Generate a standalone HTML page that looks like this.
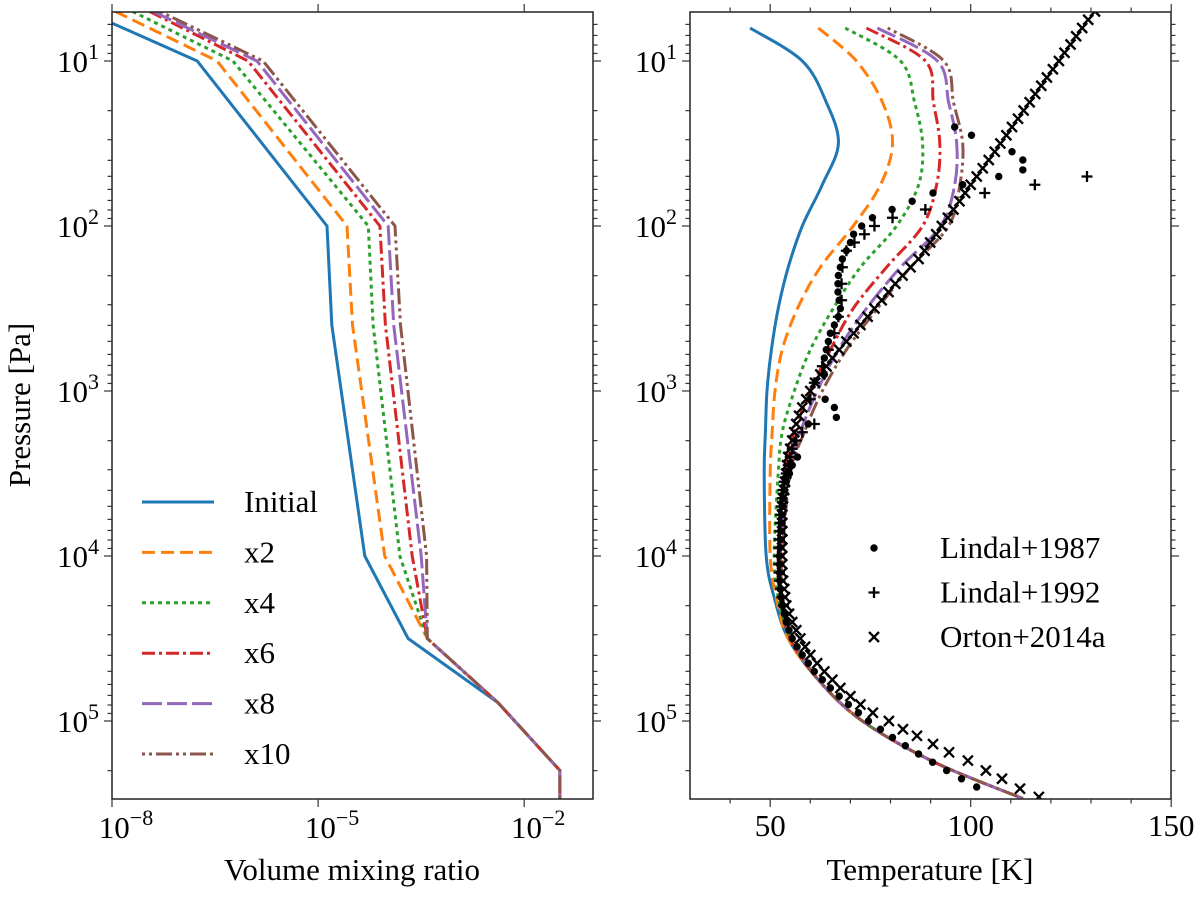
<!DOCTYPE html>
<html><head><meta charset="utf-8"><style>
html,body{margin:0;padding:0;background:#fff;}
svg{display:block;font-family:"Liberation Serif","DejaVu Serif",serif;}
</style></head><body>
<svg id="fig" width="1200" height="897" viewBox="0 0 1200 897" xmlns="http://www.w3.org/2000/svg">
<defs>
<clipPath id="clipL"><rect x="112" y="12" width="481" height="787"/></clipPath>
<clipPath id="clipR"><rect x="690" y="12" width="481" height="787"/></clipPath>
</defs>
<g id="left"></g>
<g id="right"></g>
<text x="0" y="0" font-size="31" text-anchor="middle" transform="translate(30,405) rotate(-90)">Pressure [Pa]</text>
<text x="352" y="880" font-size="31" text-anchor="middle">Volume mixing ratio</text>
<text x="930" y="880" font-size="31" text-anchor="middle">Temperature [K]</text>
</svg>
<script>
// ---- data ----
const colors = ["#1f77b4","#ff7f0e","#2ca02c","#d62728","#9467bd","#8c564b"];
const seriesNames = ["Initial","x2","x4","x6","x8","x10"];
const vmrLogP = [0.7, 1.0, 2.0, 2.6, 4.0, 4.5, 4.89, 5.3, 5.47];
const vmrInitial = [-8.38, -6.76, -4.87, -4.80, -4.32, -3.69, -2.38, -1.48, -1.48];
const vmrX2  = [-7.95, -6.47, -4.58, -4.50, -4.03, -3.41, -2.38, -1.48, -1.48];
const vmrX4  = [-7.70, -6.24, -4.27, -4.20, -3.81, -3.41, -2.38, -1.48, -1.48];
const vmrX6  = [-7.45, -6.02, -4.10, -4.02, -3.63, -3.41, -2.38, -1.48, -1.48];
const vmrX8  = [-7.40, -5.89, -3.98, -3.90, -3.50, -3.41, -2.38, -1.48, -1.48];
const vmrX10 = [-7.30, -5.80, -3.88, -3.80, -3.42, -3.41, -2.38, -1.48, -1.48];
const tLogP = [0.8,1.0,1.25,1.5,1.75,2.0,2.25,2.5,2.75,3.0,3.25,3.5,4.0,4.25,4.5,4.75,5.0,5.25,5.47];
const tInitial = [45,58,64,67,63,58,54.5,52,50.3,49.2,48.8,48.5,49,51,54.5,62,73,91,113];
const tX2  = [62,71.5,78,80.5,77.5,70.7,62.5,56.8,53,51.2,50.5,50,50,51.5,54.5,62,73,91,113];
const tX4  = [68.7,82.5,86,88,87,81.5,72.5,65.7,60,56,53,52,51,52,55,62,73,91,113];
const tX6  = [74,88.7,90.7,92.3,91.5,88,79,70.7,65,60,56,53.5,52,52.5,55,62,73,91,113];
const tX8  = [76.7,91.7,94.5,96.5,96,92.5,82.5,74,67,61.7,57.5,54.5,52.5,53,55.5,62,73,91,113];
const tX10 = [79.3,93.3,95.7,98,97.3,94.5,85,76.7,69,63,58.5,55,53,53,55.5,62,73,91,113];
const lindal1987 = [[96,1.4],[100.2,1.45],[110.3,1.55],[113,1.6],[113,1.66],[107,1.7],[98,1.75],[90.6,1.8],[85.4,1.85],[80.4,1.9],[75.5,1.95],[72.8,2.0],[70.8,2.05],[70,2.1],[69,2.15],[68,2.2],[67.5,2.25],[67,2.3],[66.9,2.35],[66.9,2.4],[67.2,2.45],[67.5,2.5],[67,2.55],[66,2.6],[65,2.65],[64.5,2.7],[64,2.75],[63.5,2.8],[63.5,2.9],[63.7,3.05],[66,3.1],[66.5,3.16],[59.5,3.2],[56.8,3.4],[55.5,3.45],[54.8,3.5],[54,3.55],[53.5,3.6],[53.2,3.65],[53,3.7],[52.8,3.75],[52.7,3.8],[52.6,3.85],[52.5,3.9],[52.4,3.95],[52.3,4.0],[52.3,4.05],[52.3,4.1],[52.4,4.15],[52.5,4.2],[52.7,4.25],[53,4.3],[53.5,4.35],[54,4.4],[54.7,4.45],[55.5,4.5],[56.7,4.55],[58,4.6],[59.5,4.65],[61,4.7],[63,4.75],[65,4.8],[67.2,4.85],[69.5,4.9],[72,4.95],[74.5,5.0],[77.5,5.05],[80.5,5.1],[83.7,5.15],[87,5.2],[90.5,5.25],[94,5.3],[97.7,5.35],[101.5,5.4]];
const lindal1992 = [[129,1.7],[116,1.75],[103.5,1.8],[88.7,1.9],[80.5,1.95],[76,2.0],[73.5,2.05],[71,2.1],[69,2.15],[68,2.25],[67.8,2.35],[67.8,2.45],[67,2.55],[66,2.65],[64.5,2.75],[63,2.85],[61,2.95],[60,3.05],[61,3.2],[58,3.25],[56.5,3.3],[55.5,3.35],[55,3.4],[54.5,3.45],[54,3.5],[53.5,3.55],[53.2,3.6],[53,3.65],[52.8,3.7],[52.6,3.75],[52.5,3.8],[52.4,3.85],[52.3,3.9],[52.2,3.95],[52.2,4.0],[52.2,4.05],[52.3,4.1],[52.4,4.15],[52.6,4.2],[52.9,4.25],[53.3,4.3]];
const orton2014 = [[131,0.7],[129.3,0.75],[127.8,0.8],[126.3,0.85],[124.9,0.9],[123.4,0.95],[122,1.0],[120.5,1.05],[119,1.1],[117.6,1.15],[116.1,1.2],[114.7,1.25],[113.2,1.3],[111.8,1.35],[110.3,1.4],[108.9,1.45],[107.4,1.5],[106,1.55],[104.5,1.6],[103,1.65],[101.5,1.7],[100,1.75],[98.6,1.8],[97.2,1.85],[95.7,1.9],[94.3,1.95],[92.8,2.0],[91.4,2.05],[89.9,2.1],[88.5,2.15],[87,2.2],[85,2.25],[83,2.3],[81.2,2.35],[79.5,2.4],[77.8,2.45],[76,2.5],[74.3,2.55],[72.5,2.6],[70.8,2.65],[69,2.7],[67.2,2.75],[65.5,2.8],[64,2.85],[62.5,2.9],[61.2,2.95],[60,3.0],[59,3.05],[58,3.1],[57.2,3.15],[56.5,3.2],[56,3.25],[55.5,3.3],[55,3.35],[54.5,3.4],[54.2,3.45],[54,3.5],[53.7,3.55],[53.5,3.6],[53.2,3.65],[53,3.7],[53,3.75],[53,3.8],[53,3.85],[53,3.9],[53,3.95],[53,4.0],[53,4.05],[53,4.1],[53.2,4.15],[53.5,4.2],[53.7,4.25],[54,4.3],[54.7,4.35],[55.5,4.4],[56.5,4.45],[57.5,4.5],[58.7,4.55],[60,4.6],[61.7,4.65],[63.5,4.7],[65.5,4.75],[67.5,4.8],[70,4.85],[72.5,4.9],[75.6,4.95],[79.6,5.0],[83.1,5.05],[86.6,5.09],[90.6,5.14],[94.6,5.19],[99.3,5.24],[103.8,5.3],[107.8,5.35],[112.3,5.41],[117,5.46]];
const vmrTicks = [-8,-5,-2];
const tempMajorTicks = [50,100,150];
const tempMinorTicks = [40,60,70,80,90,110,120,130,140];
const pressureTicks = [1,2,3,4,5];

// ---- scales ----
const NS="http://www.w3.org/2000/svg";
const yP = lp => 61 + 165*(lp-1);
const xV = lv => 112 + 68.7*(lv+8);
const xT = t => 690 + 4.01*(t-30);
const PT=12, PB=799;
const LW=3;
function mk(tag, attrs, parent){const e=document.createElementNS(NS,tag);for(const k in attrs)e.setAttribute(k,attrs[k]);parent.appendChild(e);return e;}
const dashes = ["", "13,6", "4,4", "13,4,3,4", "20,5", "3,4,3,4,16,4"];
function smoothPath(pts){
  let d="M"+pts[0][0].toFixed(1)+","+pts[0][1].toFixed(1);
  for(let i=0;i<pts.length-1;i++){
    const p0=pts[Math.max(0,i-1)],p1=pts[i],p2=pts[i+1],p3=pts[Math.min(pts.length-1,i+2)];
    const c1=[p1[0]+(p2[0]-p0[0])/6,p1[1]+(p2[1]-p0[1])/6];
    const c2=[p2[0]-(p3[0]-p1[0])/6,p2[1]-(p3[1]-p1[1])/6];
    d+=" C"+c1.map(v=>v.toFixed(1)).join(",")+" "+c2.map(v=>v.toFixed(1)).join(",")+" "+p2[0].toFixed(1)+","+p2[1].toFixed(1);
  }
  return d;
}
function supText(parent,x,y,base,exp,anchor,name){
  const t=mk("text",{x:x,y:y,"font-size":31,"text-anchor":anchor},parent);
  
  
  t.appendChild(document.createTextNode(base));
  const s=mk("tspan",{dy:-13,"font-size":22},t);
  s.textContent=exp;
  return t;
}
function yAxis(g,x0,x1){
  for(let d=0;d<=5;d++){
    for(let m=1;m<10;m++){
      const lp=d+Math.log10(m); const y=yP(lp);
      if(y<PT-0.5||y>PB+0.5)continue;
      const len=m===1?8:4.5;
      const l1=mk("line",{x1:x0-len,x2:x0,y1:y,y2:y,stroke:"#333","stroke-width":1.2},g);
      
      
      const l2=mk("line",{x1:x1,x2:x1+len,y1:y,y2:y,stroke:"#333","stroke-width":1.2},g);
      
      
    }
  }
  pressureTicks.forEach(p=>{supText(g,x0-13,yP(p)+11,"10",String(p),"end","y-tick-label");});
}
function frame(g,x0,x1){
  const r=mk("rect",{x:x0,y:PT,width:x1-x0,height:PB-PT,fill:"none",stroke:"#222","stroke-width":1.5},g);
  
  
}

// ---- left panel ----
const L=document.getElementById("left");
const vmrSeries=[vmrInitial,vmrX2,vmrX4,vmrX6,vmrX8,vmrX10];
const gl=mk("g",{"clip-path":"url(#clipL)"},L);
vmrSeries.forEach((s,i)=>{
  const pts=s.map((v,j)=>xV(v).toFixed(1)+","+yP(vmrLogP[j]).toFixed(1)).join(" ");
  const pl=mk("polyline",{points:pts,fill:"none",stroke:colors[i],"stroke-width":LW,"stroke-dasharray":dashes[i]||"none"},gl);
  
  
});
frame(L,112,593);
yAxis(L,112,593);
vmrTicks.forEach(v=>{
  const x=xV(v);
  const t1=mk("line",{x1:x,x2:x,y1:PB,y2:PB+8,stroke:"#333","stroke-width":1.2},L);
  
  
  const t2=mk("line",{x1:x,x2:x,y1:PT,y2:PT-8,stroke:"#333","stroke-width":1.2},L);
  
  
  supText(L,x+14,838,"10","\u2212"+Math.abs(v),"middle","x-tick-label");
});
const legL=mk("g",{},L);


seriesNames.forEach((n,i)=>{
  const y=502+50.4*i;
  const ln=mk("line",{x1:142,x2:214,y1:y,y2:y,stroke:colors[i],"stroke-width":LW,"stroke-dasharray":dashes[i]||"none"},legL);
  
  
  const tx=mk("text",{x:244,y:y+10,"font-size":31},legL);
  
  
  tx.textContent=n;
});

// ---- right panel ----
const R=document.getElementById("right");
const tSeries=[tInitial,tX2,tX4,tX6,tX8,tX10];
const gr=mk("g",{"clip-path":"url(#clipR)"},R);
tSeries.forEach((s,i)=>{
  const pts=s.map((t,j)=>[xT(t),yP(tLogP[j])]);
  const p=mk("path",{d:smoothPath(pts),fill:"none",stroke:colors[i],"stroke-width":LW,"stroke-dasharray":dashes[i]||"none"},gr);
  
  
});
lindal1987.forEach(d=>{
  const c=mk("circle",{cx:xT(d[0]),cy:yP(d[1]),r:3.7,fill:"#000"},gr);
  
  
});
function plus(g,x,y,s){return mk("path",{d:`M${x-s},${y}H${x+s}M${x},${y-s}V${y+s}`,stroke:"#000","stroke-width":2.3,fill:"none"},g);}
function cross(g,x,y,s){return mk("path",{d:`M${x-s},${y-s}L${x+s},${y+s}M${x-s},${y+s}L${x+s},${y-s}`,stroke:"#000","stroke-width":2.3,fill:"none"},g);}
lindal1992.forEach(d=>{
  const p=plus(gr,xT(d[0]),yP(d[1]),5.5);
  
  
});
orton2014.forEach(d=>{
  const p=cross(gr,xT(d[0]),yP(d[1]),5);
  
  
});
frame(R,690,1171);
yAxis(R,690,1171);
tempMajorTicks.forEach(t=>{
  const x=xT(t);
  const a=mk("line",{x1:x,x2:x,y1:PB,y2:PB+8,stroke:"#333","stroke-width":1.2},R);
  
  
  const b=mk("line",{x1:x,x2:x,y1:PT,y2:PT-8,stroke:"#333","stroke-width":1.2},R);
  
  
  const tx=mk("text",{x:x,y:836,"font-size":31,"text-anchor":"middle"},R);
  
  
  tx.textContent=String(t);
});
tempMinorTicks.forEach(t=>{
  const x=xT(t);
  const a=mk("line",{x1:x,x2:x,y1:PB,y2:PB+4.5,stroke:"#333","stroke-width":1.2},R);
  
  
  const b=mk("line",{x1:x,x2:x,y1:PT,y2:PT-4.5,stroke:"#333","stroke-width":1.2},R);
  
  
});
const legR=mk("g",{},R);


const obsNames=["Lindal+1987","Lindal+1992","Orton+2014a"];
obsNames.forEach((n,i)=>{
  const y=548+44.5*i;
  let m;
  if(i===0) m=mk("circle",{cx:874,cy:y,r:3.7,fill:"#000"},legR);
  else if(i===1) m=plus(legR,874,y,5.5);
  else m=cross(legR,874,y,5);
  
  
  const tx=mk("text",{x:940,y:y+10,"font-size":31},legR);
  
  
  tx.textContent=n;
});
</script>
</body></html>
